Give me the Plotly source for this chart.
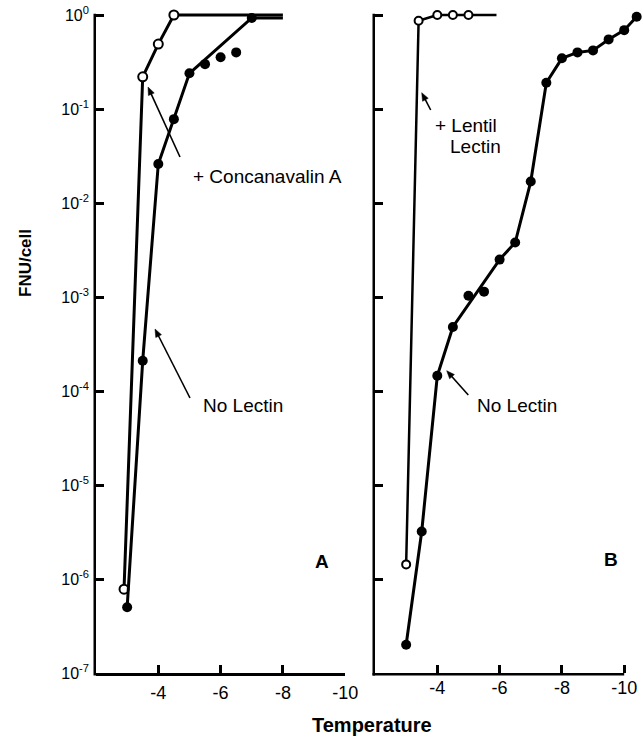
import math
import plotly.graph_objects as go

# ---------------- data ----------------
# Panel A
A_conA_T = [-2.9, -3.5, -4.0, -4.5]
A_conA_F = [7.8e-7, 0.22, 0.49, 1.0]
A_conA_plateau_end = -8.0

A_none_T = [-3.0, -3.5, -4.0, -4.5, -5.0, -5.5, -6.0, -6.5, -7.0]
A_none_F = [5.0e-7, 2.1e-4, 0.026, 0.078, 0.24, 0.30, 0.355, 0.40, 0.93]
A_none_curve_idx = [0, 1, 2, 3, 4, 8]
A_none_plateau_end = -8.0

# Panel B
B_lent_T = [-3.0, -3.4, -4.0, -4.5, -5.0]
B_lent_F = [1.43e-6, 0.87, 1.0, 1.0, 1.0]
B_lent_plateau_end = -5.9

B_none_T = [-3.0, -3.5, -4.0, -4.5, -5.0, -5.5, -6.0, -6.5, -7.0, -7.5,
            -8.0, -8.5, -9.0, -9.5, -10.0, -10.4]
B_none_F = [2.0e-7, 3.2e-6, 1.45e-4, 4.8e-4, 1.03e-3, 1.14e-3, 2.5e-3, 3.8e-3,
            0.0169, 0.19, 0.346, 0.40, 0.42, 0.55, 0.69, 0.96]
B_none_curve_idx = [0, 1, 2, 3, 6, 7, 8, 9, 10, 11, 12, 13, 14, 15]

x_tickvals = [-4, -6, -8, -10]
x_ticktext = ["-4", "-6", "-8", "-10"]
x_axis_start, x_axis_end = -2, -10
y_tickvals = [1e0, 1e-1, 1e-2, 1e-3, 1e-4, 1e-5, 1e-6, 1e-7]
y_ticktext = ["10<sup>0</sup>", "10<sup>-1</sup>", "10<sup>-2</sup>", "10<sup>-3</sup>",
              "10<sup>-4</sup>", "10<sup>-5</sup>", "10<sup>-6</sup>", "10<sup>-7</sup>"]
y_log_lo, y_log_hi = -7, 0

# ---------------- layout helpers ----------------
W, H = 644, 737
FONT = "Liberation Sans, Arial, Helvetica, sans-serif"
PX_PER_UNIT = 31.15     # x pixels per temperature unit
PX_PER_DECADE = 94.0    # y pixels per decade
Y_HEADROOM = 0.06       # extra decades above 10^0 so the plateau lines are not clipped
AXW = 2.5               # axis line width


def px(x):
    return x / W


def py(y):
    return 1 - y / H


fig = go.Figure()


def add_series(T, F, curve_T, curve_F, xa, ya, open_marker, lw, msize):
    fig.add_trace(go.Scatter(x=curve_T, y=curve_F, mode="lines", xaxis=xa, yaxis=ya,
                             line=dict(color="black", width=lw), cliponaxis=False,
                             showlegend=False, hoverinfo="skip"))
    if open_marker:
        marker = dict(symbol="circle", size=msize, color="white",
                      line=dict(color="black", width=2))
    else:
        marker = dict(symbol="circle", size=msize, color="black",
                      line=dict(color="black", width=0))
    fig.add_trace(go.Scatter(x=T, y=F, mode="markers", xaxis=xa, yaxis=ya,
                             marker=marker, cliponaxis=False, showlegend=False))


# Panel A: + Concanavalin A (open)
add_series(A_conA_T, A_conA_F,
           A_conA_T + [A_conA_plateau_end], A_conA_F + [A_conA_F[-1]],
           "x", "y", True, 3, 9)
# Panel A: No lectin (filled)
cT = [A_none_T[i] for i in A_none_curve_idx] + [A_none_plateau_end]
cF = [A_none_F[i] for i in A_none_curve_idx] + [A_none_F[A_none_curve_idx[-1]]]
add_series(A_none_T, A_none_F, cT, cF, "x", "y", False, 3, 10)

# Panel B: + Lentil lectin (open)
add_series(B_lent_T, B_lent_F,
           B_lent_T + [B_lent_plateau_end], B_lent_F + [B_lent_F[-1]],
           "x2", "y2", True, 2.5, 8)
# Panel B: No lectin (filled)
add_series(B_none_T, B_none_F,
           [B_none_T[i] for i in B_none_curve_idx],
           [B_none_F[i] for i in B_none_curve_idx],
           "x2", "y2", False, 3, 10)

xcommon = dict(tickvals=x_tickvals, ticktext=x_ticktext,
               ticks="inside", ticklen=8, tickwidth=2.5, tickcolor="black",
               linewidth=AXW, linecolor="black",
               showgrid=False, zeroline=False, automargin=False,
               tickfont=dict(family=FONT, size=18, color="black"),
               ticklabelstandoff=2)
ycommon = dict(type="log", range=[y_log_lo, y_log_hi + Y_HEADROOM],
               tickvals=y_tickvals, ticktext=y_ticktext,
               ticks="inside", ticklen=8, tickwidth=2.5, tickcolor="black",
               showline=False,
               showgrid=False, zeroline=False, automargin=False,
               tickfont=dict(family=FONT, size=16, color="black"))

# Pixel frame of both panels
A_left, A_right = 96, 96 + (x_axis_start - x_axis_end) * PX_PER_UNIT
B_left = 375
B_axis_right = B_left + (x_axis_start - x_axis_end) * PX_PER_UNIT
# panel B x-range extended slightly so the last point (beyond -10) stays visible
B_range_end = -10.5
B_right = B_left + (x_axis_start - B_range_end) * PX_PER_UNIT

y_bottom_px = 673
y_top_axis_px = y_bottom_px - (y_log_hi - y_log_lo) * PX_PER_DECADE
y_top_px = y_top_axis_px - Y_HEADROOM * PX_PER_DECADE
ydom = [py(y_bottom_px), py(y_top_px)]

fig.update_layout(
    width=W, height=H, autosize=False,
    margin=dict(l=0, r=0, t=0, b=0, pad=0, autoexpand=False),
    paper_bgcolor="white", plot_bgcolor="white",
    showlegend=False,
    xaxis=dict(xcommon, range=[x_axis_start, x_axis_end], showline=True,
               domain=[px(A_left), px(A_right)], anchor="y"),
    xaxis2=dict(xcommon, range=[x_axis_start, B_range_end], showline=False,
                domain=[px(B_left), px(B_right)], anchor="y2"),
    yaxis=dict(ycommon, domain=ydom, anchor="x", ticklabelstandoff=6),
    yaxis2=dict(ycommon, domain=ydom, anchor="x2", showticklabels=False),
)

annotations = []
off = AXW / 2
shapes = [
    # panel B x axis line (-2 .. -10)
    dict(type="line", xref="paper", yref="paper",
         x0=px(B_left - AXW), x1=px(B_axis_right), y0=py(y_bottom_px + off),
         y1=py(y_bottom_px + off), line=dict(color="black", width=AXW)),
    # y axis lines (10^-7 .. 10^0)
    dict(type="line", xref="paper", yref="paper",
         x0=px(A_left - off), x1=px(A_left - off),
         y0=py(y_bottom_px + AXW), y1=py(y_top_axis_px - off),
         line=dict(color="black", width=AXW)),
    dict(type="line", xref="paper", yref="paper",
         x0=px(B_left - off), x1=px(B_left - off),
         y0=py(y_bottom_px + AXW), y1=py(y_top_axis_px - off),
         line=dict(color="black", width=AXW)),
]


def text(t, x, y, size=19, bold=False, angle=0):
    annotations.append(dict(
        text=("<b>%s</b>" % t) if bold else t, x=px(x), y=py(y),
        xref="paper", yref="paper", xanchor="center", yanchor="middle",
        showarrow=False, textangle=angle,
        font=dict(family=FONT, size=size, color="black")))


def arrow(hx, hy, tx, ty, hl=8.0, hw=3.2):
    dx, dy = hx - tx, hy - ty
    n = math.hypot(dx, dy)
    ux, uy = dx / n, dy / n
    bx, by = hx - ux * hl, hy - uy * hl
    shapes.append(dict(type="line", xref="paper", yref="paper",
                       x0=px(tx), y0=py(ty), x1=px(bx + ux), y1=py(by + uy),
                       line=dict(color="black", width=1.6)))
    p1 = (bx - uy * hw, by + ux * hw)
    p2 = (bx + uy * hw, by - ux * hw)
    path = "M %f,%f L %f,%f L %f,%f Z" % (px(hx), py(hy), px(p1[0]), py(p1[1]),
                                          px(p2[0]), py(p2[1]))
    shapes.append(dict(type="path", xref="paper", yref="paper", path=path,
                       fillcolor="black", line=dict(color="black", width=0.5)))


text("+ Concanavalin A", 267, 176)
text("No Lectin", 243, 405)
text("+ Lentil", 466, 125)
text("Lectin", 475, 147)
text("No Lectin", 517, 405)
text("A", 322, 561, bold=True)
text("B", 611, 559, bold=True)
text("Temperature", 372, 725, size=20, bold=True)
text("FNU/cell", 25, 263, size=17, bold=True, angle=-90)

arrow(148, 87, 180, 157)
arrow(155, 329, 190, 398)
arrow(421.7, 92.7, 430.7, 110)
arrow(446.7, 370.7, 468.3, 395)

fig.update_layout(annotations=annotations, shapes=shapes)

fig.write_html("out.html")
